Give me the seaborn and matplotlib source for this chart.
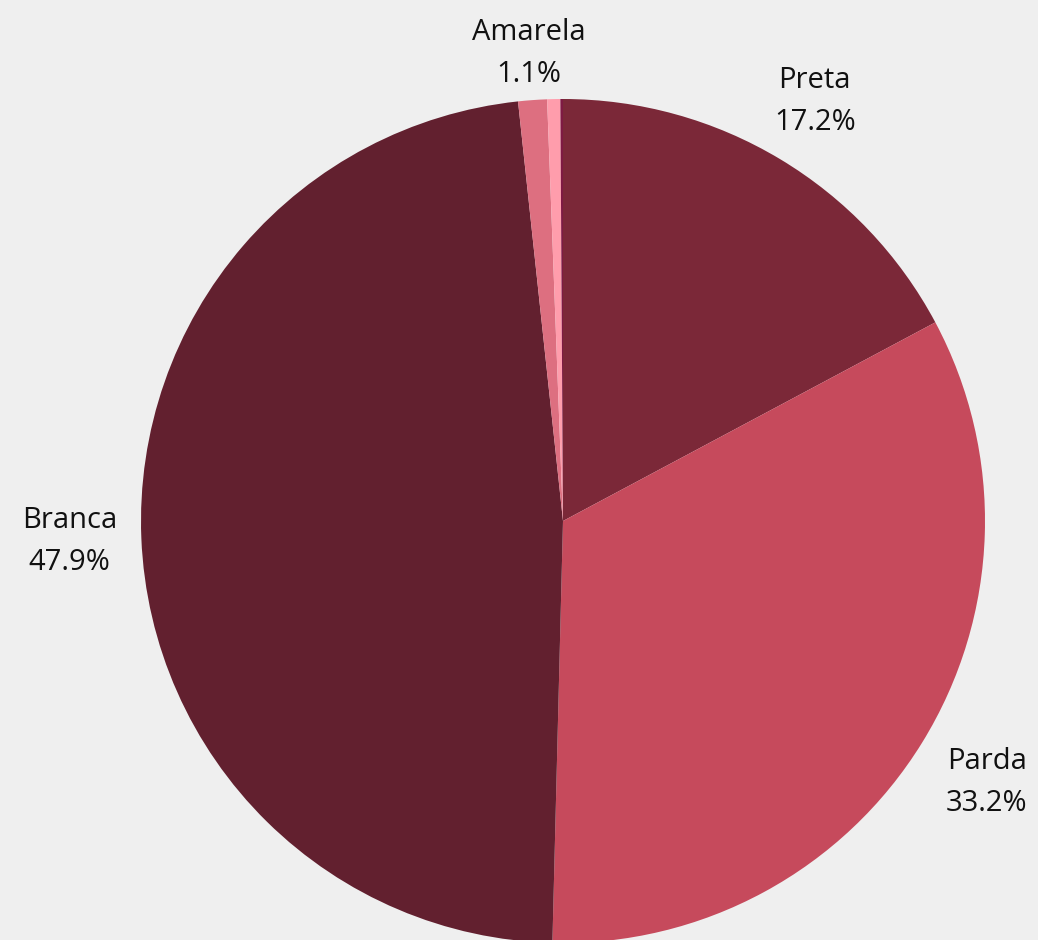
import matplotlib
matplotlib.use("Agg")
import matplotlib.pyplot as plt
import seaborn as sns
import numpy as np

# Distribution by race/colour (%)
categories = ["Preta", "Parda", "Branca", "Amarela", "Indígena", "Não declarada"]
shares = [17.2, 33.2, 47.9, 1.1, 0.5, 0.1]
colors = ["#7b2838", "#c64a5c", "#62202f", "#dd6f80", "#ff9dac", "#7e1a43"]

sns.set_theme(style="white")
plt.rcParams["font.family"] = ["Open Sans", "DejaVu Sans"]

W, H = 1038, 940
fig = plt.figure(figsize=(W / 100, H / 100), dpi=100, facecolor="#efefef")
ax = fig.add_axes([0, 0, 1, 1])
ax.set_facecolor("#efefef")

wedges, _ = ax.pie(
    shares,
    colors=colors,
    startangle=90,
    counterclock=False,
    radius=1.0,
    wedgeprops=dict(linewidth=0),
)

# Place the pie: centre and radius in figure pixels
R = 422.0
cx, cy = 563.0, H - 521.0
ax.set_xlim(-cx / R, (W - cx) / R)
ax.set_ylim(-cy / R, (H - cy) / R)
ax.set_aspect("equal")
ax.axis("off")

# Outside labels for the visible slices only
label_dist = {"Preta": 1.16, "Parda": 1.18, "Branca": 1.17, "Amarela": 1.11}
for w, name, val in zip(wedges, categories, shares):
    if val < 1.0:
        continue
    ang = np.deg2rad((w.theta1 + w.theta2) / 2)
    d = label_dist[name]
    ax.text(d * np.cos(ang), d * np.sin(ang), f"{name}\n{val:.1f}%",
            ha="center", va="center", fontsize=21, color="#111111",
            linespacing=1.6)

fig.savefig("out.png", dpi=100, facecolor=fig.get_facecolor())
